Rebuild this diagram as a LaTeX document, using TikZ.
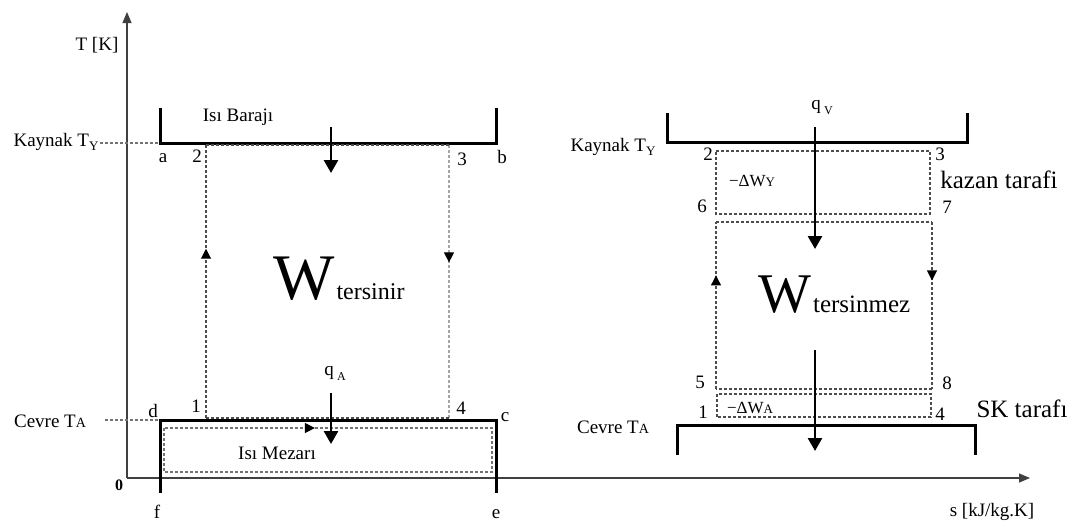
\documentclass[tikz,border=0pt]{standalone}
\usepackage{fontspec}
\setmainfont{Liberation Serif}
\usetikzlibrary{arrows.meta,decorations.markings}
\tikzset{
  axis/.style={line width=1.2pt, black!75},
  bath/.style={line width=3pt},
  flow/.style={line width=2.6pt, -{Triangle[length=13pt,width=14pt]}},
  cyc/.style={line width=1.1pt, dash pattern=on 3pt off 2pt, black!70},
  lbl/.style={inner sep=0pt},
  midarrow/.style={postaction={decorate}, decoration={markings,
      mark=at position #1 with {\arrow[black]{Triangle[length=10pt,width=10pt]}}}},
}
\newcommand{\subsm}[1]{\raisebox{-4pt}{\fontsize{13}{13}\selectfont #1}}
\newcommand{\capsm}[1]{{\fontsize{14}{14}\selectfont #1}}
\begin{document}
\begin{tikzpicture}[x=1pt, y=-1pt, >={Triangle[length=11pt,width=9pt]}, font=\fontsize{19}{19}\selectfont]
\useasboundingbox (0,0) rectangle (1078,525);
% axes
\coordinate (O) at (127,478);
\coordinate (Ttop) at (127,12);
\coordinate (send) at (1030,478);
\draw[axis,->] (O) -- (Ttop);
\draw[axis,->] (O) -- (send);
\node[lbl] (Tlab) at (97,45) {T [K]};
\node[lbl] (slab) at (992,512) {s [kJ/kg.K]};
\node[lbl, font=\bfseries\fontsize{16}{16}\selectfont] (zero) at (119,485) {0};

% left: reversible cycle
\coordinate (a) at (160,143);
\coordinate (b) at (496,143);
\coordinate (d) at (160,420);
\coordinate (c) at (496,420);
\draw[bath] (160,108) -- (a) -- (b) -- (496,108);
\draw[bath] (160,493) -- (d) -- (c) -- (496,493);
\coordinate (L1) at (206,418);
\coordinate (L2) at (206,145);
\coordinate (L3) at (449,145);
\coordinate (L4) at (449,418);
\draw[cyc, midarrow=0.62] (L1) -- (L2);
\draw[cyc, black!35, midarrow=0.43] (L3) -- (L4);
\draw[cyc] (L2) -- (L3);
\draw[cyc] (L4) -- (L1);
\draw[cyc, black!55] (164,428) rectangle (492,472);
\draw[cyc, draw=none, midarrow=0.46] (164,428) -- (492,428);
\coordinate (kayL) at (100,143);
\coordinate (cevL) at (105,420);
\draw[cyc, black!55] (kayL) -- (a);
\draw[cyc, black!55] (cevL) -- (d);
% heat flows
\draw[flow] (331,127) -- (331,173);
\draw[flow] (331,393) -- (331,444);
% labels
\node[lbl] (kaynak1) at (56,142) {Kaynak T\subsm{Y}};
\node[lbl] (cevre1) at (50,421) {Cevre T\capsm{A}};
\node[lbl] (baraj) at (238,117) {Isı Barajı};
\node[lbl] (mezar) at (277,453) {Isı Mezarı};
\node[lbl] (qA) at (335,373) {q\,\raisebox{-5pt}{\fontsize{12}{12}\selectfont A}};
\node[lbl] (la) at (163,158) {a};
\node[lbl] (l2) at (197,156) {2};
\node[lbl] (l3) at (462,159) {3};
\node[lbl] (lb) at (502,157) {b};
\node[lbl] (ld) at (153,411) {d};
\node[lbl] (l1) at (196,406) {1};
\node[lbl] (l4) at (461,408) {4};
\node[lbl] (lc) at (505,417) {c};
\node[lbl] (lf) at (157,512) {f};
\node[lbl] (le) at (496,514) {e};
\node[lbl, anchor=base west] (Wrev) at (273,299)
  {\fontsize{65}{65}\selectfont W\kern2pt\fontsize{24}{24}\selectfont tersinir};

% right: irreversible cycle
\draw[bath] (667,113) -- (667,142) -- (967,142) -- (967,113);
\draw[bath] (677,455) -- (677,425) -- (975,425) -- (975,455);
\coordinate (R2) at (716,151);
\coordinate (R3) at (930,151);
\coordinate (R7) at (930,214);
\coordinate (R6) at (716,214);
\draw[cyc] (R2) -- (R3) -- (R7) -- (R6) -- cycle;
\coordinate (R6b) at (716,222);
\coordinate (R7b) at (932,222);
\coordinate (R8) at (932,389);
\coordinate (R5) at (716,389);
\draw[cyc] (R6b) -- (R7b);
\draw[cyc, midarrow=0.35] (R7b) -- (R8);
\draw[cyc] (R8) -- (R5);
\draw[cyc, midarrow=0.68] (R5) -- (R6b);
\coordinate (R1) at (717,417);
\coordinate (R4) at (931,394);
\draw[cyc] (R1) rectangle (R4);
\draw[flow] (815,127) -- (815,249);
\draw[flow] (815,350) -- (815,451);
\node[lbl] (kaynak2) at (613,147) {Kaynak T\subsm{Y}};
\node[lbl] (cevre2) at (613,427) {Cevre T\capsm{A}};
\node[lbl] (qV) at (822,108) {q\,\raisebox{-5pt}{\fontsize{12}{12}\selectfont V}};
\node[lbl] (r2) at (708,154) {2};
\node[lbl] (r3) at (940,154) {3};
\node[lbl] (r6) at (702,206) {6};
\node[lbl] (r7) at (947,207) {7};
\node[lbl] (r5) at (700,382) {5};
\node[lbl] (r8) at (947,383) {8};
\node[lbl] (r1) at (703,412) {1};
\node[lbl] (r4) at (940,414) {4};
\node[lbl, font=\fontsize{17}{17}\selectfont] (dWY) at (752,181) {−ΔW{\fontsize{13}{13}\selectfont Y}};
\node[lbl, font=\fontsize{17}{17}\selectfont] (dWA) at (750,408) {−ΔW{\fontsize{13}{13}\selectfont A}};
\node[lbl, font=\fontsize{25}{25}\selectfont] (kazan) at (999,180) {kazan tarafi};
\node[lbl, font=\fontsize{25}{25}\selectfont] (sk) at (1022,409) {SK tarafı};
\node[lbl, anchor=base west] (Wirr) at (758,312)
  {\fontsize{56}{56}\selectfont W\kern2pt\fontsize{25}{25}\selectfont tersinmez};
\end{tikzpicture}
\end{document}
